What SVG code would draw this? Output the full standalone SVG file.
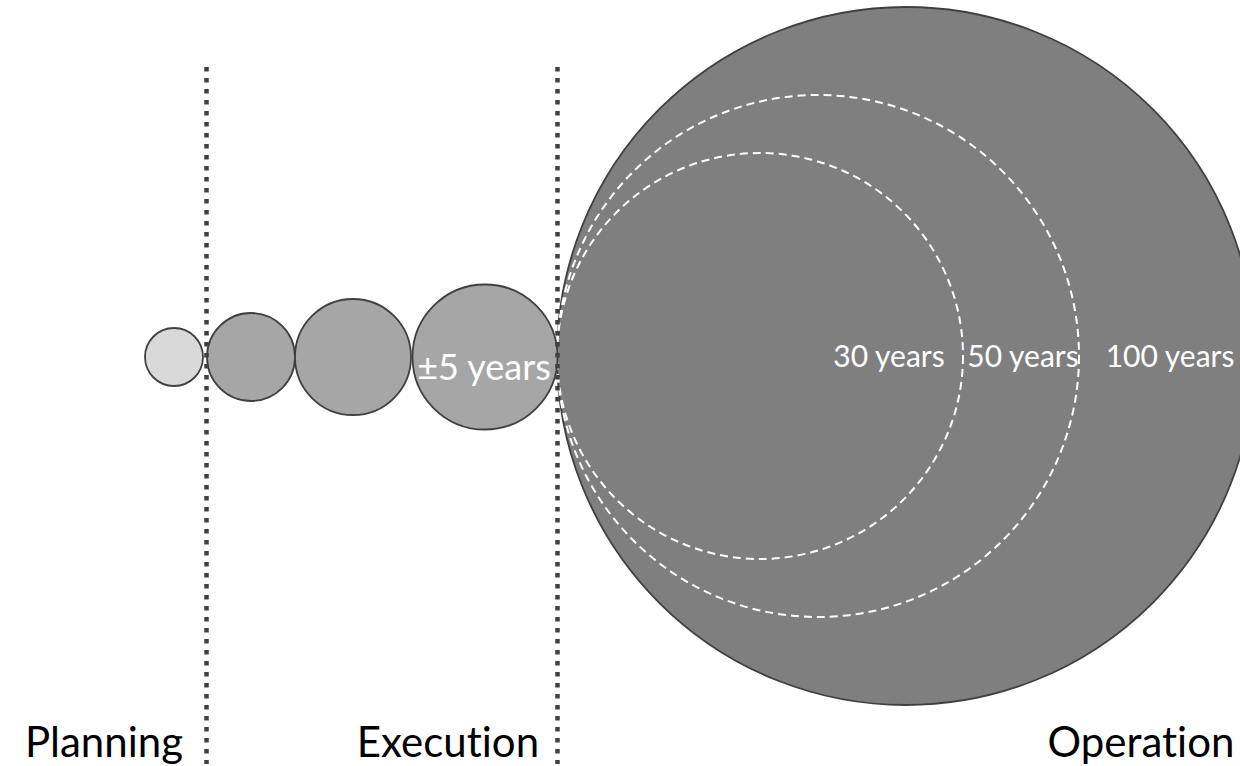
<svg xmlns="http://www.w3.org/2000/svg" width="1240" height="766" viewBox="0 0 1240 766">
  <style>
    .node { stroke: #404040; stroke-width: 1.8; }
    .ring { fill: none; stroke: #ffffff; stroke-width: 2; stroke-dasharray: 8 5; }
    .sep { stroke: #404040; stroke-width: 4.5; stroke-dasharray: 4.5 6.5; fill: none; }
    text { font-variant-ligatures: none; font-feature-settings: "liga" 0, "clig" 0; }
    .lbl { font-family: Lato, "Liberation Sans", sans-serif; fill: #ffffff; }
    .phase { font-family: Lato, "Liberation Sans", sans-serif; fill: #000000; font-size: 42px; }
  </style>
  <rect width="1240" height="766" fill="#ffffff"/>
  <g id="operation">
    <circle class="node" cx="906" cy="356" r="349" fill="#7f7f7f"/>
  </g>
  <g id="ring-50">
    <circle class="ring" cx="818" cy="356" r="261"/>
    <text class="lbl" x="1023" y="367" font-size="30" text-anchor="middle">50 years</text>
  </g>
  <g id="ring-30">
    <circle class="ring" cx="760" cy="356" r="203"/>
    <text class="lbl" x="889" y="367" font-size="30" text-anchor="middle">30 years</text>
  </g>
  <g id="label-100">
    <text class="lbl" x="1170" y="367" font-size="30" text-anchor="middle">100 years</text>
  </g>
  <g id="planning">
    <circle class="node" cx="174" cy="357" r="29" fill="#d9d9d9"/>
  </g>
  <g id="exec-1">
    <circle class="node" cx="251" cy="357" r="44" fill="#a6a6a6"/>
  </g>
  <g id="exec-2">
    <circle class="node" cx="353" cy="357" r="58" fill="#a6a6a6"/>
  </g>
  <g id="exec-3">
    <circle class="node" cx="485" cy="357" r="72.5" fill="#a6a6a6"/>
    <text class="lbl" x="484" y="380" font-size="36" text-anchor="middle">±5 years</text>
  </g>
  <g id="connectors">
    <line class="sep" x1="206.5" y1="67" x2="206.5" y2="764"/>
    <line class="sep" x1="557.5" y1="67" x2="557.5" y2="764"/>
  </g>
  <g id="phase-labels">
    <text class="phase" x="104" y="757" text-anchor="middle">Planning</text>
    <text class="phase" x="448" y="757" text-anchor="middle">Execution</text>
    <text class="phase" x="1141" y="757" text-anchor="middle">Operation</text>
  </g>
</svg>
